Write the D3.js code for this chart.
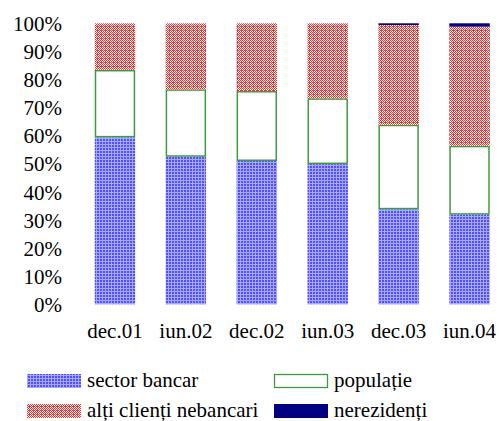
<!DOCTYPE html>
<html><head><meta charset="utf-8">
<script src="https://cdn.jsdelivr.net/npm/d3@7"></script>
<style>body{margin:0;background:#fff}svg{display:block}</style>
</head><body>
<script>
const categories = ["dec.01","iun.02","dec.02","iun.03","dec.03","iun.04"];
const sectorBancar = [59.4, 52.5, 51.0, 49.9, 33.8, 31.9];
const populatie = [24.0, 24.0, 24.9, 23.4, 30.1, 24.5];
const altiClienti = [16.6, 23.5, 24.1, 26.7, 35.5, 42.4];
const nerezidenti = [0, 0, 0, 0, 0.6, 1.2];
const yTicks = [0,10,20,30,40,50,60,70,80,90,100];
const seriesNames = ["sector bancar","populație","alți clienți nebancari","nerezidenți"];

const FONT = "'Liberation Serif', 'Times New Roman', Times, 'DejaVu Serif', serif";
const W = 499, H = 421;
const svg = d3.select("body").append("svg").attr("width", W).attr("height", H);
const defs = svg.append("defs");
const pb = defs.append("pattern").attr("id","pBlue").attr("patternUnits","userSpaceOnUse").attr("width",3).attr("height",3);
pb.append("rect").attr("width",3).attr("height",3).attr("fill","#5050ff");
pb.append("rect").attr("x",0).attr("y",0).attr("width",1).attr("height",3).attr("fill","#a8a8ff");
pb.append("rect").attr("x",0).attr("y",0).attr("width",3).attr("height",1).attr("fill","#a8a8ff");
const pr = defs.append("pattern").attr("id","pRed").attr("patternUnits","userSpaceOnUse").attr("width",4).attr("height",4);
pr.append("rect").attr("width",4).attr("height",4).attr("fill","#ffffff");
[[0,0],[2,0],[1,1],[3,1],[0,2],[1,2],[2,2],[1,3],[3,3]].forEach(([x,y])=>{
  pr.append("rect").attr("x",x).attr("y",y).attr("width",1).attr("height",1).attr("fill","#ff2626");
});

const data = categories.map((c,i)=>({cat:c, s0:sectorBancar[i], s1:populatie[i], s2:altiClienti[i], s3:nerezidenti[i]}));
const keys = ["s0","s1","s2","s3"];
const fills = ["url(#pBlue)","#ffffff","url(#pRed)","#000080"];
const stack = d3.stack().keys(keys)(data);

const x = d3.scaleBand().domain(categories).range([79.5, 505]).paddingInner(0.43).paddingOuter(0.215);
const y = d3.scaleLinear().domain([0,100]).range([304.3, 23.3]);

const g = svg.append("g");
stack.forEach((layer,li)=>{
  g.selectAll(null).data(layer.filter(d=>d[1]-d[0]>0)).enter().append("rect")
    .attr("x", d=>x(d.data.cat) + (li===1?0.75:0))
    .attr("width", x.bandwidth() - (li===1?1.5:0))
    .attr("y", d=>y(d[1]) + (li===1?0.75:0))
    .attr("height", d=>y(d[0]) - y(d[1]) - (li===1?1.5:0))
    .attr("fill", fills[li])
    .attr("stroke", li===1 ? "#3f9a3f" : "none")
    .attr("stroke-width", li===1 ? 1.5 : 0);
});

const ya = svg.append("g").attr("transform","translate(62,0)")
  .call(d3.axisLeft(y).tickValues(yTicks).tickFormat(d=>d+"%").tickSize(0).tickPadding(0));
ya.attr("font-family", FONT).attr("font-size", 21);
ya.select(".domain").remove();
ya.selectAll("text").attr("fill","#000").attr("dy","0.34em");

const xa = svg.append("g").attr("transform","translate(0,318)")
  .call(d3.axisBottom(x).tickSize(0).tickPadding(0));
xa.attr("font-family", FONT).attr("font-size", 21);
xa.select(".domain").remove();
xa.selectAll("text").attr("fill","#000").attr("dy","0.95em");

const legend = [
  {name:seriesNames[0], fill:fills[0], x:27, y:374, stroke:"none"},
  {name:seriesNames[1], fill:"#fff", x:274, y:374, stroke:"#3f9a3f"},
  {name:seriesNames[2], fill:fills[2], x:27, y:404, stroke:"none"},
  {name:seriesNames[3], fill:fills[3], x:274, y:404, stroke:"none"}
];
const lg = svg.append("g").attr("font-family", FONT).attr("font-size", 21);
legend.forEach(l=>{
  const s = l.stroke!=="none";
  lg.append("rect").attr("x", l.x + (s?0.5:0)).attr("y", l.y + (s?0.5:0))
    .attr("width", 54 - (s?1:0)).attr("height", 14 - (s?1:0))
    .attr("fill", l.fill).attr("stroke", l.stroke).attr("stroke-width", 1.3);
  lg.append("text").attr("x", l.x + 60).attr("y", l.y + 13).attr("fill","#000").text(l.name);
});
</script>
</body></html>
